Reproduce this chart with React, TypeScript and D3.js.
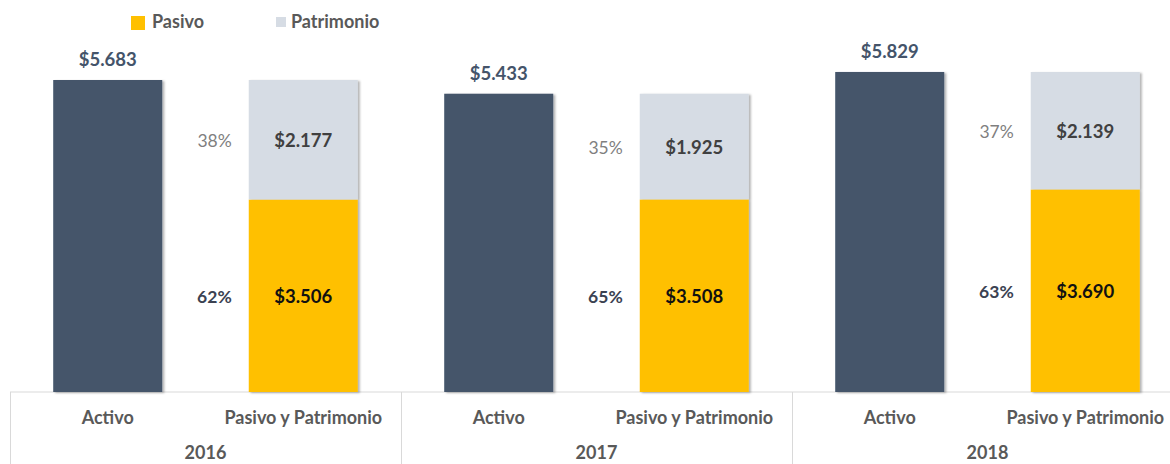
import React, { useEffect, useRef } from 'react';
import * as d3 from 'd3';

const years = ['2016', '2017', '2018'];
const categories = ['Activo', 'Pasivo y Patrimonio'];
const activo = [5683, 5433, 5829];
const pasivo = [3506, 3508, 3690];
const patrimonio = [2177, 1925, 2139];
const pctPasivo = ['62%', '65%', '63%'];
const pctPatrimonio = ['38%', '35%', '37%'];

const fmt = (v: number) => '$' + d3.format(',')(v).replace(/,/g, '.');

const App: React.FC = () => {
  const svgRef = useRef<SVGSVGElement>(null);

  useEffect(() => {
    if (!svgRef.current) return;
    const svg = d3.select(svgRef.current);
    svg.selectAll('*').remove();

    const width = 1170;
    const height = 464;
    const base = 392;
    const font = 'Lato, "Open Sans", sans-serif';

    const defs = svg.append('defs');
    const f = defs.append('filter').attr('id', 'shadow').attr('x', '-10%').attr('y', '-10%').attr('width', '130%').attr('height', '130%');
    f.append('feDropShadow')
      .attr('dx', 2).attr('dy', 1).attr('stdDeviation', 1.2)
      .attr('flood-color', '#000').attr('flood-opacity', 0.3);

    const x0 = d3.scaleBand().domain(years).range([10, 10 + 3 * 391]);
    const x1 = d3.scaleBand().domain(categories).range([0, x0.bandwidth()])
      .paddingInner(0.4425).paddingOuter(0.221);

    const y = d3.scaleLinear().domain([0, 5683]).range([base, 80]);

    const colors = { activo: '#44546A', pasivo: '#FFC000', patrimonio: '#D6DCE4' };

    // axis lines
    svg.append('line')
      .attr('x1', 10).attr('x2', width).attr('y1', base).attr('y2', base)
      .attr('stroke', '#d9d9d9').attr('stroke-width', 1);
    years.forEach((yr) => {
      const gx = x0(yr)!;
      svg.append('line')
        .attr('x1', gx + 0.5).attr('x2', gx + 0.5).attr('y1', base).attr('y2', height)
        .attr('stroke', '#d9d9d9');
    });

    years.forEach((yr, i) => {
      const gx = x0(yr)!;
      const ax = gx + x1('Activo')!;
      const px = gx + x1('Pasivo y Patrimonio')!;
      const bw = x1.bandwidth();
      const total = pasivo[i] + patrimonio[i];

      svg.append('rect')
        .attr('x', ax).attr('y', y(activo[i])).attr('width', bw).attr('height', base - y(activo[i]))
        .attr('fill', colors.activo).attr('filter', 'url(#shadow)');

      const stack = svg.append('g').attr('filter', 'url(#shadow)');
      stack.append('rect')
        .attr('x', px).attr('y', y(pasivo[i])).attr('width', bw).attr('height', base - y(pasivo[i]))
        .attr('fill', colors.pasivo);
      stack.append('rect')
        .attr('x', px).attr('y', y(total)).attr('width', bw).attr('height', y(pasivo[i]) - y(total))
        .attr('fill', colors.patrimonio);

      svg.append('text')
        .attr('x', ax + bw / 2).attr('y', y(activo[i]) - 14)
        .attr('text-anchor', 'middle').attr('font-family', font).attr('font-weight', 700)
        .attr('font-size', 18.5).attr('fill', '#44546A')
        .text(fmt(activo[i]));

      svg.append('text')
        .attr('x', px + bw / 2).attr('y', (y(total) + y(pasivo[i])) / 2 + 7)
        .attr('text-anchor', 'middle').attr('font-family', font).attr('font-weight', 700)
        .attr('font-size', 18.5).attr('fill', '#404040')
        .text(fmt(patrimonio[i]));

      svg.append('text')
        .attr('x', px + bw / 2).attr('y', (base + y(pasivo[i])) / 2 + 7)
        .attr('text-anchor', 'middle').attr('font-family', font).attr('font-weight', 700)
        .attr('font-size', 18.5).attr('fill', '#111')
        .text(fmt(pasivo[i]));

      svg.append('text')
        .attr('x', px - 17).attr('y', (y(total) + y(pasivo[i])) / 2 + 7)
        .attr('text-anchor', 'end').attr('font-family', font)
        .attr('font-size', 17.5).attr('fill', '#7f7f7f')
        .text(pctPatrimonio[i]);

      svg.append('text')
        .attr('x', px - 17).attr('y', (base + y(pasivo[i])) / 2 + 7)
        .attr('text-anchor', 'end').attr('font-family', font).attr('font-weight', 700)
        .attr('font-size', 17.5).attr('fill', '#3b4252')
        .text(pctPasivo[i]);

      categories.forEach((c) => {
        svg.append('text')
          .attr('x', gx + x1(c)! + bw / 2).attr('y', 424)
          .attr('text-anchor', 'middle').attr('font-family', font).attr('font-weight', 700)
          .attr('font-size', 18).attr('fill', '#595959')
          .text(c);
      });

      svg.append('text')
        .attr('x', gx + x0.bandwidth() / 2).attr('y', 459)
        .attr('text-anchor', 'middle').attr('font-family', font).attr('font-weight', 700)
        .attr('font-size', 18).attr('fill', '#595959')
        .text(yr);
    });

    // legend
    const legend = svg.append('g');
    legend.append('rect').attr('x', 131).attr('y', 16).attr('width', 14).attr('height', 14).attr('fill', colors.pasivo);
    legend.append('text').attr('x', 152).attr('y', 28)
      .attr('font-family', font).attr('font-weight', 700).attr('font-size', 18).attr('fill', '#595959')
      .text('Pasivo');
    legend.append('rect').attr('x', 276).attr('y', 17).attr('width', 10).attr('height', 10).attr('fill', colors.patrimonio);
    legend.append('text').attr('x', 291).attr('y', 28)
      .attr('font-family', font).attr('font-weight', 700).attr('font-size', 18).attr('fill', '#595959')
      .text('Patrimonio');
  }, []);

  return (
    <svg
      ref={svgRef}
      width={1170}
      height={464}
      style={{ position: 'absolute', left: 0, top: 0, background: '#fff' }}
    />
  );
};

export default App;
